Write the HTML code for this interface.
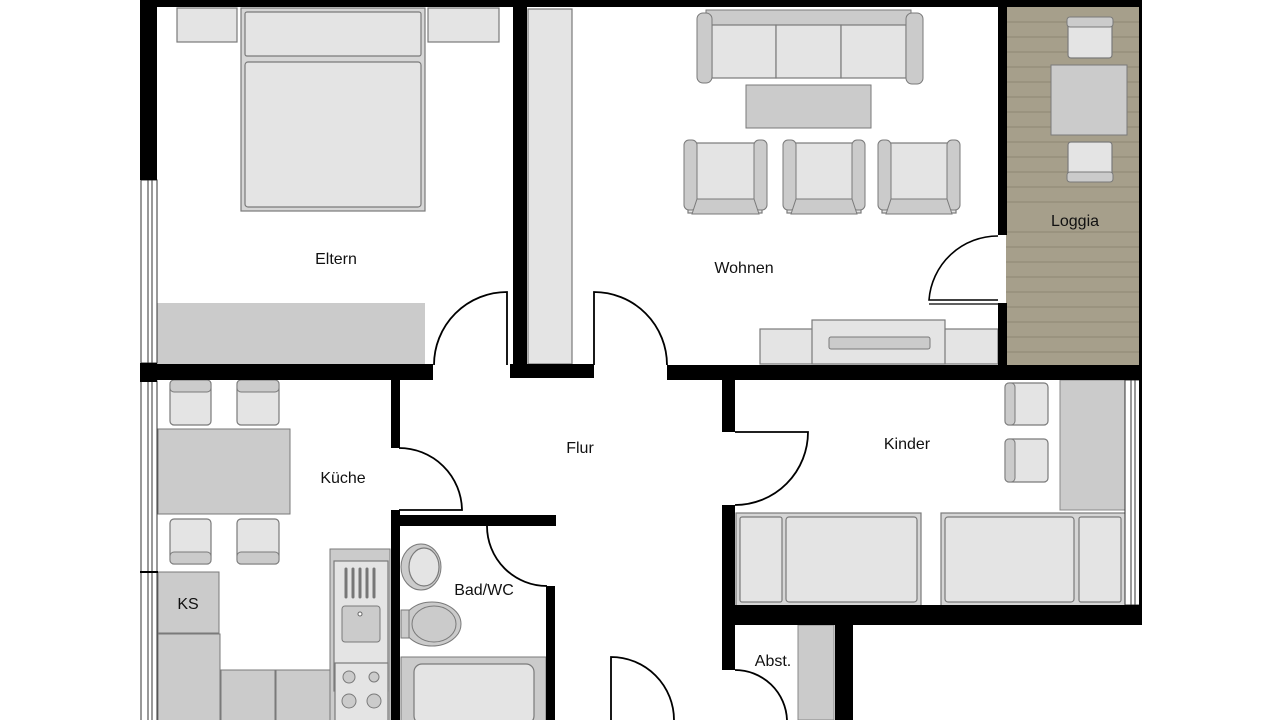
<!DOCTYPE html>
<html><head><meta charset="utf-8"><style>
html,body{margin:0;padding:0;background:#fff;width:1280px;height:720px;overflow:hidden}
svg{display:block}
text{font-family:"Liberation Sans",Arial,sans-serif;font-size:16px;fill:#111}
.l{fill:#e4e4e4;stroke:#7a7a7a;stroke-width:1.2}
.d{fill:#cbcbcb;stroke:#7a7a7a;stroke-width:1}
.m{fill:#d6d6d6;stroke:#7a7a7a;stroke-width:1.2}
.a{fill:none;stroke:#000;stroke-width:1.8}
</style></head><body>
<svg width="1280" height="720" viewBox="0 0 1280 720">
<!-- loggia -->
<rect x="1006" y="7" width="134" height="358" fill="#a69f8b"/>
<g stroke="#8e8773" stroke-width="1">
<line x1="1006" y1="22" x2="1140" y2="22"/><line x1="1006" y1="37" x2="1140" y2="37"/><line x1="1006" y1="52" x2="1140" y2="52"/><line x1="1006" y1="67" x2="1140" y2="67"/><line x1="1006" y1="82" x2="1140" y2="82"/><line x1="1006" y1="97" x2="1140" y2="97"/><line x1="1006" y1="112" x2="1140" y2="112"/><line x1="1006" y1="127" x2="1140" y2="127"/><line x1="1006" y1="142" x2="1140" y2="142"/><line x1="1006" y1="157" x2="1140" y2="157"/><line x1="1006" y1="172" x2="1140" y2="172"/><line x1="1006" y1="187" x2="1140" y2="187"/><line x1="1006" y1="202" x2="1140" y2="202"/><line x1="1006" y1="232" x2="1140" y2="232"/><line x1="1006" y1="247" x2="1140" y2="247"/><line x1="1006" y1="262" x2="1140" y2="262"/><line x1="1006" y1="277" x2="1140" y2="277"/><line x1="1006" y1="292" x2="1140" y2="292"/><line x1="1006" y1="307" x2="1140" y2="307"/><line x1="1006" y1="322" x2="1140" y2="322"/><line x1="1006" y1="337" x2="1140" y2="337"/><line x1="1006" y1="352" x2="1140" y2="352"/>
</g>
<rect class="l" x="1068" y="20" width="44" height="38" rx="3"/>
<rect class="d" x="1067" y="17" width="46" height="10" rx="3"/>
<rect class="d" x="1051" y="65" width="76" height="70"/>
<rect class="l" x="1068" y="142" width="44" height="38" rx="3"/>
<rect class="d" x="1067" y="172" width="46" height="10" rx="3"/>

<!-- Eltern -->
<rect class="l" x="177" y="8" width="60" height="34"/>
<rect class="l" x="428" y="8" width="71" height="34"/>
<rect class="m" x="241" y="8" width="184" height="203"/>
<rect class="l" x="245" y="12" width="176" height="44" rx="2"/>
<rect class="l" x="245" y="62" width="176" height="145" rx="3"/>
<rect x="157" y="303" width="268" height="61" fill="#cbcbcb"/>
<rect class="l" x="528" y="9" width="44" height="355"/>

<!-- Wohnen -->
<rect class="d" x="706" y="10" width="205" height="16"/>
<rect class="l" x="712" y="25" width="64" height="53"/>
<rect class="l" x="776" y="25" width="65" height="53"/>
<rect class="l" x="841" y="25" width="65" height="53"/>
<rect class="d" x="697" y="13" width="15" height="70" rx="6"/>
<rect class="d" x="906" y="13" width="17" height="71" rx="6"/>
<rect class="d" x="746" y="85" width="125" height="43"/>
<g>
<rect class="l" x="688" y="143" width="74" height="70"/><rect class="d" x="684" y="140" width="13" height="70" rx="5"/><rect class="d" x="754" y="140" width="13" height="70" rx="5"/><polygon class="d" points="697,199 754,199 759,214 692,214"/>
<rect class="l" x="787" y="143" width="74" height="70"/><rect class="d" x="783" y="140" width="13" height="70" rx="5"/><rect class="d" x="852" y="140" width="13" height="70" rx="5"/><polygon class="d" points="796,199 852,199 857,214 791,214"/>
<rect class="l" x="882" y="143" width="74" height="70"/><rect class="d" x="878" y="140" width="13" height="70" rx="5"/><rect class="d" x="947" y="140" width="13" height="70" rx="5"/><polygon class="d" points="891,199 947,199 952,214 886,214"/>
</g>
<rect class="l" x="760" y="329" width="238" height="35"/>
<rect class="l" x="812" y="320" width="133" height="44"/>
<rect class="d" x="829" y="337" width="101" height="12" rx="2"/>

<!-- Küche -->
<rect class="l" x="170" y="380" width="41" height="45" rx="4"/><rect class="d" x="170" y="380" width="41" height="12" rx="4"/>
<rect class="l" x="237" y="380" width="42" height="45" rx="4"/><rect class="d" x="237" y="380" width="42" height="12" rx="4"/>
<rect class="d" x="158" y="429" width="132" height="85"/>
<rect class="l" x="170" y="519" width="41" height="45" rx="4"/><rect class="d" x="170" y="552" width="41" height="12" rx="4"/>
<rect class="l" x="237" y="519" width="42" height="45" rx="4"/><rect class="d" x="237" y="552" width="42" height="12" rx="4"/>
<rect class="d" x="158" y="572" width="61" height="61"/>
<rect class="d" x="158" y="634" width="62" height="90"/>
<rect class="d" x="221" y="670" width="54" height="54"/>
<rect class="d" x="276" y="670" width="54" height="54"/>
<rect class="d" x="330" y="549" width="60" height="175"/>
<rect class="l" x="334" y="561" width="54" height="130"/>
<g stroke="#777" stroke-width="3" stroke-linecap="round"><line x1="346" y1="569" x2="346" y2="597"/><line x1="353" y1="569" x2="353" y2="597"/><line x1="360" y1="569" x2="360" y2="597"/><line x1="367" y1="569" x2="367" y2="597"/><line x1="374" y1="569" x2="374" y2="597"/></g>
<rect class="d" x="342" y="606" width="38" height="36" rx="3"/>
<circle cx="360" cy="614" r="2" fill="#fff" stroke="#666"/>
<rect class="l" x="335" y="663" width="53" height="60"/>
<circle class="d" cx="349" cy="677" r="6"/><circle class="d" cx="374" cy="677" r="5"/><circle class="d" cx="349" cy="701" r="7"/><circle class="d" cx="374" cy="701" r="7"/>

<!-- Bad -->
<ellipse class="d" cx="421" cy="567" rx="20" ry="23"/>
<ellipse class="l" cx="424" cy="567" rx="15" ry="19"/>
<ellipse class="d" cx="432" cy="624" rx="29" ry="22"/>
<ellipse class="d" cx="434" cy="624" rx="22" ry="18"/>
<rect class="d" x="401" y="610" width="8" height="28"/>
<rect class="d" x="401" y="657" width="145" height="67"/>
<rect class="l" x="414" y="664" width="120" height="60" rx="8"/>

<!-- Kinder -->
<rect class="l" x="1005" y="383" width="43" height="42" rx="4"/><rect class="d" x="1005" y="383" width="10" height="42" rx="4"/>
<rect class="l" x="1005" y="439" width="43" height="43" rx="4"/><rect class="d" x="1005" y="439" width="10" height="43" rx="4"/>
<rect x="1060" y="380" width="65" height="130" fill="#cbcbcb" stroke="#888"/>
<rect class="m" x="736" y="513" width="185" height="93"/>
<rect class="l" x="740" y="517" width="42" height="85" rx="2"/>
<rect class="l" x="786" y="517" width="131" height="85" rx="3"/>
<rect class="m" x="941" y="513" width="185" height="93"/>
<rect class="l" x="945" y="517" width="129" height="85" rx="3"/>
<rect class="l" x="1079" y="517" width="42" height="85" rx="2"/>
<rect x="798" y="625" width="36" height="95" fill="#cbcbcb" stroke="#888"/>

<!-- windows -->
<g fill="#fff" stroke="#333" stroke-width="1">
<rect x="141" y="180" width="16" height="183"/><line x1="148" y1="180" x2="148" y2="363"/><line x1="152" y1="180" x2="152" y2="363"/>
<rect x="141" y="381" width="16" height="340"/><line x1="148" y1="381" x2="148" y2="720"/><line x1="152" y1="381" x2="152" y2="720"/>
<rect x="1125" y="380" width="15" height="225"/><line x1="1131" y1="380" x2="1131" y2="605"/><line x1="1135" y1="380" x2="1135" y2="605"/>
</g>
<rect x="140" y="571" width="18" height="2" fill="#000"/>

<!-- walls -->
<g fill="#000">
<rect x="140" y="0" width="1002" height="7"/>
<rect x="140" y="0" width="17" height="180"/>
<rect x="140" y="363" width="17" height="19"/>
<rect x="513" y="0" width="14" height="365"/>
<rect x="998" y="0" width="9" height="235"/>
<rect x="998" y="303" width="9" height="64"/>
<rect x="1139" y="0" width="3" height="380"/>
<rect x="140" y="364" width="293" height="16"/>
<rect x="510" y="364" width="84" height="14"/>
<rect x="667" y="365" width="475" height="15"/>
<rect x="391" y="378" width="9" height="70"/>
<rect x="391" y="510" width="9" height="210"/>
<rect x="391" y="515" width="165" height="11"/>
<rect x="546" y="586" width="9" height="134"/>
<rect x="722" y="378" width="13" height="54"/>
<rect x="722" y="505" width="13" height="165"/>
<rect x="722" y="605" width="420" height="20"/>
<rect x="1139" y="380" width="3" height="245"/>
<rect x="835" y="625" width="18" height="95"/>
</g>

<!-- doors -->
<g class="a">
<path d="M507,365 L507,292 A73,73 0 0 0 434,365"/>
<path d="M594,365 L594,292 A73,73 0 0 1 667,365"/>
<path d="M998,300 L929,300 A69,69 0 0 1 998,236" stroke-width="1.6"/>
<line x1="929" y1="304" x2="998" y2="304" stroke-width="1.2"/>
<path d="M399,510 L462,510 A63,63 0 0 0 399,448"/>
<path d="M735,432 L808,432 A73,73 0 0 1 735,505"/>
<path d="M487,526 A60,60 0 0 0 547,586"/>
<path d="M611,720 L611,657 A63,63 0 0 1 674,720"/>
<path d="M735,670 A52,52 0 0 1 787,720"/>
</g>

<!-- labels -->
<text x="336" y="264" text-anchor="middle">Eltern</text>
<text x="744" y="273" text-anchor="middle">Wohnen</text>
<text x="1075" y="226" text-anchor="middle">Loggia</text>
<text x="580" y="453" text-anchor="middle">Flur</text>
<text x="907" y="449" text-anchor="middle">Kinder</text>
<text x="343" y="483" text-anchor="middle">Küche</text>
<text x="188" y="609" text-anchor="middle">KS</text>
<text x="484" y="595" text-anchor="middle">Bad/WC</text>
<text x="773" y="666" text-anchor="middle">Abst.</text>
</svg>
</body></html>
